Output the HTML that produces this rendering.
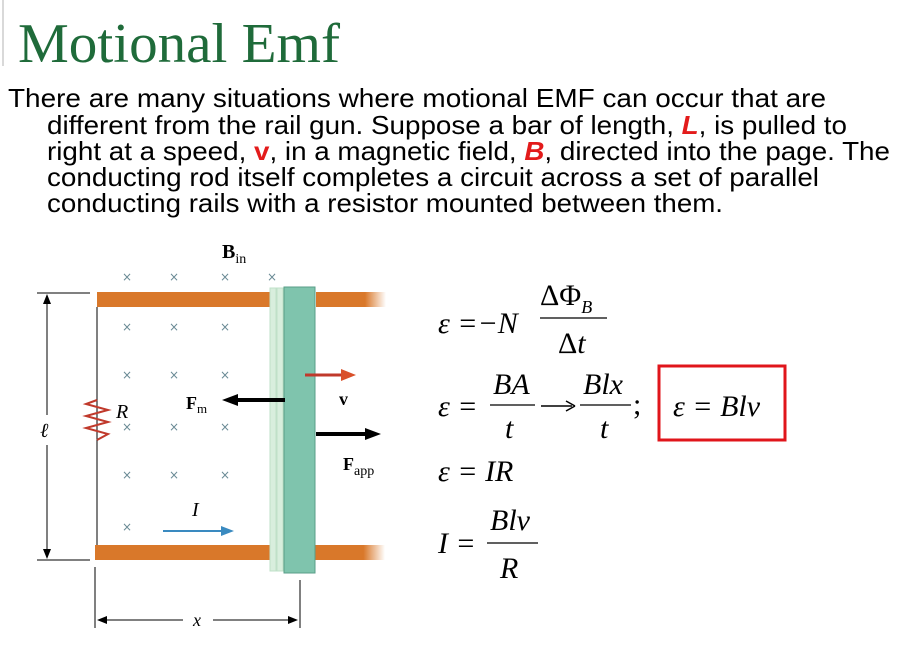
<!DOCTYPE html>
<html><head><style>
html,body{margin:0;padding:0;background:#fff;width:910px;height:648px;overflow:hidden}
</style></head><body>
<svg width="910" height="648" xmlns="http://www.w3.org/2000/svg">
<line x1="3" y1="0" x2="3" y2="66" stroke="#ccc" stroke-width="1.5"/>
<text x="18" y="62" font-family="Liberation Serif, serif" font-size="56" fill="#1f6b3a" textLength="322" lengthAdjust="spacingAndGlyphs">Motional Emf</text>
<g font-family="Liberation Sans, sans-serif" font-size="26" fill="#000">
<text x="8" y="107" textLength="818" lengthAdjust="spacingAndGlyphs">There are many situations where motional EMF can occur that are</text>
<text x="47" y="134" textLength="800" lengthAdjust="spacingAndGlyphs">different from the rail gun. Suppose a bar of length, <tspan fill="#e31b1b" font-weight="bold" font-style="italic">L</tspan>, is pulled to</text>
<text x="47" y="160" textLength="843" lengthAdjust="spacingAndGlyphs">right at a speed, <tspan fill="#e31b1b" font-weight="bold">v</tspan>, in a magnetic field, <tspan fill="#e31b1b" font-weight="bold" font-style="italic">B</tspan>, directed into the page. The</text>
<text x="47" y="186" textLength="772" lengthAdjust="spacingAndGlyphs">conducting rod itself completes a circuit across a set of parallel</text>
<text x="47" y="212" textLength="676" lengthAdjust="spacingAndGlyphs">conducting rails with a resistor mounted between them.</text>
</g>
<defs>
<linearGradient id="fade" x1="0" x2="1"><stop offset="0.7" stop-color="#d9782a"/><stop offset="1" stop-color="#fff"/></linearGradient>
</defs>
<rect x="97" y="292" width="190" height="15" fill="#d9782a"/>
<rect x="316" y="292" width="70" height="15" fill="url(#fade)"/>
<rect x="95" y="545" width="190" height="15" fill="#d9782a"/>
<rect x="313" y="545" width="72" height="15" fill="url(#fade)"/>
<rect x="270" y="288" width="6" height="283" fill="#d8eedd" stroke="#bfe0c8"/>
<rect x="277" y="288" width="6" height="283" fill="#d8eedd" stroke="#bfe0c8"/>
<rect x="284" y="287" width="31" height="286" fill="#7fc4ad" stroke="#5a9e88"/>
<g font-family="DejaVu Sans, sans-serif" font-size="12" fill="#6a8a95" text-anchor="middle">
<text x="127" y="281">×</text><text x="174" y="281">×</text><text x="225" y="281">×</text><text x="272" y="281">×</text>
<text x="127" y="331">×</text><text x="174" y="331">×</text><text x="225" y="331">×</text>
<text x="127" y="379">×</text><text x="174" y="379">×</text><text x="225" y="379">×</text>
<text x="127" y="431">×</text><text x="174" y="431">×</text><text x="225" y="431">×</text>
<text x="127" y="479">×</text><text x="174" y="479">×</text><text x="225" y="479">×</text>
<text x="127" y="531">×</text>
</g>
<text x="222" y="258" font-family="Liberation Serif, serif" font-size="20" font-weight="bold">B<tspan font-size="14" font-weight="normal" dy="5">in</tspan></text>
<polyline points="97,307 97,400 97,440 97,545" fill="none" stroke="#000" stroke-width="1"/>
<polyline points="97,400 86,404 108,410 86,416 108,422 86,428 108,434 97,440" fill="none" stroke="#c0392b" stroke-width="2"/>
<text x="116" y="418" font-family="Liberation Serif, serif" font-size="20" font-style="italic">R</text>
<line x1="37" y1="293" x2="90" y2="293" stroke="#000"/>
<line x1="37" y1="560" x2="90" y2="560" stroke="#000"/>
<line x1="47" y1="298" x2="47" y2="415" stroke="#000"/>
<line x1="47" y1="445" x2="47" y2="555" stroke="#000"/>
<path d="M47,294 l-4,10 h8z M47,559 l-4,-10 h8z" fill="#000"/>
<text x="40" y="437" font-family="Liberation Serif, serif" font-size="20" font-style="italic">ℓ</text>
<line x1="285" y1="400" x2="235" y2="400" stroke="#000" stroke-width="4"/>
<path d="M222,400 l16,-6 v12z" fill="#000"/>
<text x="186" y="409" font-family="Liberation Serif, serif" font-size="18" font-weight="bold">F<tspan font-size="13" font-weight="normal" dy="4">m</tspan></text>
<line x1="305" y1="375" x2="342" y2="375" stroke="#c0392b" stroke-width="3"/>
<path d="M356,375 l-15,-6 v12z" fill="#d9502a"/>
<text x="339" y="405" font-family="Liberation Serif, serif" font-size="18" font-weight="bold">v</text>
<line x1="316" y1="434" x2="368" y2="434" stroke="#000" stroke-width="4"/>
<path d="M381,434 l-16,-6 v12z" fill="#000"/>
<text x="343" y="470" font-family="Liberation Serif, serif" font-size="18" font-weight="bold">F<tspan font-size="14" font-weight="normal" dy="5">app</tspan></text>
<text x="192" y="516" font-family="Liberation Serif, serif" font-size="20" font-style="italic">I</text>
<line x1="163" y1="531" x2="222" y2="531" stroke="#3a8ac0" stroke-width="2"/>
<path d="M234,531 l-13,-5 v10z" fill="#3a8ac0"/>
<line x1="95" y1="567" x2="95" y2="628" stroke="#000"/>
<line x1="300" y1="580" x2="300" y2="628" stroke="#000"/>
<line x1="100" y1="620" x2="183" y2="620" stroke="#000"/>
<path d="M97,620 l10,-4 v8z M298,620 l-10,-4 v8z" fill="#000"/>
<line x1="213" y1="620" x2="292" y2="620" stroke="#000"/>
<text x="193" y="626" font-family="Liberation Serif, serif" font-size="18" font-style="italic">x</text>
<g font-family="Liberation Serif, serif" font-size="30" font-style="italic" fill="#000">
<text x="438" y="333">ε =−N</text>
<text x="540" y="305" font-style="normal">ΔΦ<tspan font-size="18" font-style="italic" dy="8">B</tspan></text>
<line x1="540" y1="318" x2="607" y2="318" stroke="#000" stroke-width="1.3"/>
<text x="558" y="353"><tspan font-style="normal">Δ</tspan>t</text>
<text x="438" y="416">ε =</text>
<text x="493" y="394">BA</text>
<line x1="490" y1="405" x2="535" y2="405" stroke="#000" stroke-width="1.3"/>
<text x="505" y="438">t</text>
<line x1="541" y1="406" x2="572" y2="406" stroke="#000" stroke-width="1.5"/>
<path d="M575,406 l-9,-5 M575,406 l-9,5" stroke="#000" stroke-width="1.5" fill="none"/>
<text x="583" y="394">Blx</text>
<line x1="580" y1="405" x2="631" y2="405" stroke="#000" stroke-width="1.3"/>
<text x="600" y="438">t</text>
<text x="633" y="414" font-style="normal">;</text>
<rect x="659" y="366" width="126" height="74" fill="none" stroke="#e0151b" stroke-width="3"/>
<text x="673" y="416">ε = Blv</text>
<text x="438" y="481">ε = IR</text>
<text x="438" y="553">I =</text>
<text x="490" y="530">Blv</text>
<line x1="487" y1="543" x2="538" y2="543" stroke="#000" stroke-width="1.3"/>
<text x="500" y="578">R</text>
</g>
</svg>
</body></html>
